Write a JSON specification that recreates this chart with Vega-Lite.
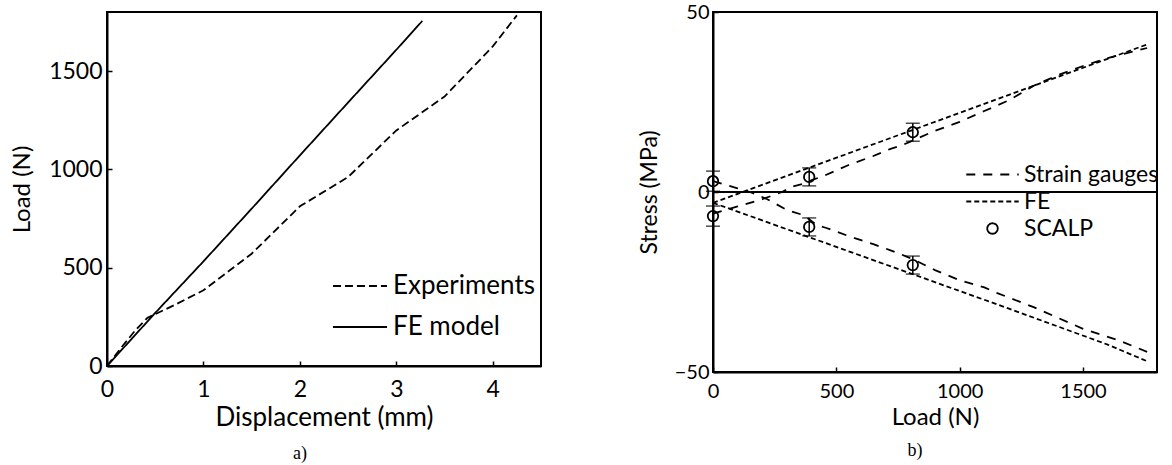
{
  "$schema": "https://vega.github.io/schema/vega-lite/v6.json",
  "padding": {"left": 9, "top": 1, "right": 0, "bottom": 0},
  "spacing": 95,
  "resolve": {
    "scale": {"strokeDash": "independent", "shape": "independent", "size": "independent"},
    "legend": {"strokeDash": "independent", "shape": "independent", "size": "independent"}
  },
  "datasets": {
    "scalp": [
      {"series": "SCALP", "load": 0, "stress": 3, "lo": 0.2, "hi": 5.8},
      {"series": "SCALP", "load": 0, "stress": -6.7, "lo": -9.5, "hi": -3.9},
      {"series": "SCALP", "load": 390, "stress": 4.2, "lo": 1.7, "hi": 6.7},
      {"series": "SCALP", "load": 390, "stress": -9.7, "lo": -12.2, "hi": -7.2},
      {"series": "SCALP", "load": 810, "stress": 16.6, "lo": 14.1, "hi": 19.1},
      {"series": "SCALP", "load": 810, "stress": -20.3, "lo": -22.8, "hi": -17.8}
    ]
  },
  "config": {
    "font": "Lato",
    "view": {"stroke": "black", "strokeWidth": 2},
    "axis": {
      "grid": false,
      "domainColor": "black",
      "domainWidth": 2,
      "tickColor": "black",
      "tickWidth": 1.5,
      "labelColor": "black",
      "titleColor": "black",
      "titleFontWeight": "normal",
      "labelFont": "Lato",
      "titleFont": "Lato",
      "format": "d"
    },
    "legend": {
      "labelColor": "black",
      "labelFont": "Lato",
      "symbolStrokeColor": "black",
      "padding": 0
    },
    "title": {"font": "Liberation Serif", "fontWeight": "normal", "color": "black"}
  },
  "hconcat": [
    {
      "width": 434,
      "height": 354,
      "title": {"text": "a)", "orient": "bottom", "fontSize": 18, "frame": "group", "dx": -24, "offset": 15},
      "data": {
        "values": [
          {"series": "Experiments", "disp": 0, "load": 0},
          {"series": "Experiments", "disp": 0.15, "load": 95},
          {"series": "Experiments", "disp": 0.3, "load": 185},
          {"series": "Experiments", "disp": 0.42, "load": 245},
          {"series": "Experiments", "disp": 0.7, "load": 310},
          {"series": "Experiments", "disp": 1.0, "load": 385},
          {"series": "Experiments", "disp": 1.5, "load": 571},
          {"series": "Experiments", "disp": 2.0, "load": 812},
          {"series": "Experiments", "disp": 2.5, "load": 961},
          {"series": "Experiments", "disp": 3.0, "load": 1198},
          {"series": "Experiments", "disp": 3.5, "load": 1370},
          {"series": "Experiments", "disp": 4.0, "load": 1625},
          {"series": "Experiments", "disp": 4.25, "load": 1783},
          {"series": "FE model", "disp": 0, "load": 0},
          {"series": "FE model", "disp": 0.5, "load": 270},
          {"series": "FE model", "disp": 1.0, "load": 532},
          {"series": "FE model", "disp": 1.5, "load": 800},
          {"series": "FE model", "disp": 2.0, "load": 1071},
          {"series": "FE model", "disp": 2.5, "load": 1340},
          {"series": "FE model", "disp": 3.0, "load": 1608},
          {"series": "FE model", "disp": 3.27, "load": 1755}
        ]
      },
      "mark": {"type": "line", "color": "black", "strokeWidth": 1.8},
      "encoding": {
        "x": {
          "field": "disp", "type": "quantitative",
          "scale": {"domain": [0, 4.5], "nice": false},
          "axis": {"orient": "bottom", "title": "Displacement (mm)", "values": [0, 1, 2, 3, 4], "labelFontSize": 23, "titleFontSize": 26, "tickSize": -5, "labelPadding": 17, "titlePadding": 3, "labelFlush": false,
            "encode": {"ticks": {"update": {"y2": {"value": -5}, "stroke": {"value": "black"}, "strokeWidth": {"value": 1.5}}}}}
        },
        "y": {
          "field": "load", "type": "quantitative",
          "scale": {"domain": [0, 1800], "nice": false},
          "axis": {"orient": "left", "title": "Load (N)", "values": [0, 500, 1000, 1500], "labelFontSize": 23, "titleFontSize": 24, "tickSize": -5, "labelPadding": 10, "titlePadding": 14, "labelFlush": false,
            "encode": {"ticks": {"update": {"x2": {"value": 5}, "stroke": {"value": "black"}, "strokeWidth": {"value": 1.5}}}}}
        },
        "strokeDash": {
          "field": "series", "type": "nominal",
          "scale": {"domain": ["Experiments", "FE model"], "range": [[8, 4], [1, 0]]},
          "legend": {"orient": "none", "legendX": 240, "legendY": 261, "title": null, "symbolType": "M-5,0H5", "symbolSize": 117, "symbolStrokeWidth": 1.8, "labelFontSize": 26, "rowPadding": 15, "labelOffset": 20}
        }
      }
    },
    {
      "width": 444,
      "height": 360,
      "title": {"text": "b)", "orient": "bottom", "fontSize": 18, "frame": "group", "dx": -20, "offset": 13},
      "layer": [
        {
          "data": {"values": [{"zero": 0}]},
          "mark": {"type": "rule", "color": "black", "strokeWidth": 2},
          "encoding": {
            "y": {"field": "zero", "type": "quantitative", "scale": {"domain": [-50, 50], "nice": false},
              "axis": {"orient": "left", "title": "Stress (MPa)", "values": [-50, 0, 50], "labelFontSize": 20, "titleFontSize": 23, "tickSize": -5, "labelPadding": 9, "titlePadding": 13, "labelFlush": false,
                "encode": {"ticks": {"update": {"x2": {"value": 5}, "stroke": {"value": "black"}, "strokeWidth": {"value": 1.5}}}}}}
          }
        },
        {
          "data": {
            "values": [
              {"series": "Strain gauges", "curve": "sg-up", "load": 0, "stress": -6},
              {"series": "Strain gauges", "curve": "sg-up", "load": 100, "stress": -4},
              {"series": "Strain gauges", "curve": "sg-up", "load": 200, "stress": -2},
              {"series": "Strain gauges", "curve": "sg-up", "load": 280, "stress": 0},
              {"series": "Strain gauges", "curve": "sg-up", "load": 320, "stress": 1.5},
              {"series": "Strain gauges", "curve": "sg-up", "load": 370, "stress": 2.3},
              {"series": "Strain gauges", "curve": "sg-up", "load": 400, "stress": 3.3},
              {"series": "Strain gauges", "curve": "sg-up", "load": 450, "stress": 4.5},
              {"series": "Strain gauges", "curve": "sg-up", "load": 550, "stress": 7.5},
              {"series": "Strain gauges", "curve": "sg-up", "load": 650, "stress": 10},
              {"series": "Strain gauges", "curve": "sg-up", "load": 720, "stress": 12},
              {"series": "Strain gauges", "curve": "sg-up", "load": 760, "stress": 12.8},
              {"series": "Strain gauges", "curve": "sg-up", "load": 800, "stress": 14},
              {"series": "Strain gauges", "curve": "sg-up", "load": 900, "stress": 17},
              {"series": "Strain gauges", "curve": "sg-up", "load": 1000, "stress": 19.5},
              {"series": "Strain gauges", "curve": "sg-up", "load": 1100, "stress": 22.5},
              {"series": "Strain gauges", "curve": "sg-up", "load": 1200, "stress": 25.5},
              {"series": "Strain gauges", "curve": "sg-up", "load": 1300, "stress": 29.5},
              {"series": "Strain gauges", "curve": "sg-up", "load": 1400, "stress": 32.5},
              {"series": "Strain gauges", "curve": "sg-up", "load": 1500, "stress": 35},
              {"series": "Strain gauges", "curve": "sg-up", "load": 1600, "stress": 37.2},
              {"series": "Strain gauges", "curve": "sg-up", "load": 1760, "stress": 40},
              {"series": "Strain gauges", "curve": "sg-low", "load": 0, "stress": 3},
              {"series": "Strain gauges", "curve": "sg-low", "load": 100, "stress": 1},
              {"series": "Strain gauges", "curve": "sg-low", "load": 150, "stress": 0},
              {"series": "Strain gauges", "curve": "sg-low", "load": 220, "stress": -2},
              {"series": "Strain gauges", "curve": "sg-low", "load": 300, "stress": -5},
              {"series": "Strain gauges", "curve": "sg-low", "load": 370, "stress": -6.5},
              {"series": "Strain gauges", "curve": "sg-low", "load": 420, "stress": -9.2},
              {"series": "Strain gauges", "curve": "sg-low", "load": 460, "stress": -10},
              {"series": "Strain gauges", "curve": "sg-low", "load": 560, "stress": -12.5},
              {"series": "Strain gauges", "curve": "sg-low", "load": 650, "stress": -14.5},
              {"series": "Strain gauges", "curve": "sg-low", "load": 720, "stress": -16.2},
              {"series": "Strain gauges", "curve": "sg-low", "load": 780, "stress": -17.8},
              {"series": "Strain gauges", "curve": "sg-low", "load": 820, "stress": -19},
              {"series": "Strain gauges", "curve": "sg-low", "load": 900, "stress": -21.7},
              {"series": "Strain gauges", "curve": "sg-low", "load": 1000, "stress": -24.5},
              {"series": "Strain gauges", "curve": "sg-low", "load": 1100, "stress": -26.5},
              {"series": "Strain gauges", "curve": "sg-low", "load": 1150, "stress": -28},
              {"series": "Strain gauges", "curve": "sg-low", "load": 1210, "stress": -29.6},
              {"series": "Strain gauges", "curve": "sg-low", "load": 1300, "stress": -32},
              {"series": "Strain gauges", "curve": "sg-low", "load": 1400, "stress": -35},
              {"series": "Strain gauges", "curve": "sg-low", "load": 1500, "stress": -38},
              {"series": "Strain gauges", "curve": "sg-low", "load": 1640, "stress": -41.1},
              {"series": "Strain gauges", "curve": "sg-low", "load": 1760, "stress": -44.4},
              {"series": "FE", "curve": "fe-up", "load": 0, "stress": -3},
              {"series": "FE", "curve": "fe-up", "load": 400, "stress": 7},
              {"series": "FE", "curve": "fe-up", "load": 800, "stress": 17},
              {"series": "FE", "curve": "fe-up", "load": 1200, "stress": 27},
              {"series": "FE", "curve": "fe-up", "load": 1600, "stress": 37},
              {"series": "FE", "curve": "fe-up", "load": 1760, "stress": 41},
              {"series": "FE", "curve": "fe-low", "load": 0, "stress": -3},
              {"series": "FE", "curve": "fe-low", "load": 400, "stress": -12.8},
              {"series": "FE", "curve": "fe-low", "load": 800, "stress": -22.6},
              {"series": "FE", "curve": "fe-low", "load": 1200, "stress": -32.4},
              {"series": "FE", "curve": "fe-low", "load": 1600, "stress": -42.4},
              {"series": "FE", "curve": "fe-low", "load": 1760, "stress": -47}
            ]
          },
          "mark": {"type": "line", "color": "black", "strokeWidth": 1.8},
          "encoding": {
            "x": {"field": "load", "type": "quantitative", "scale": {"domain": [0, 1800], "nice": false},
              "axis": {"orient": "bottom", "title": "Load (N)", "values": [0, 500, 1000, 1500], "labelFontSize": 20, "titleFontSize": 24, "tickSize": -5, "labelPadding": 14, "titlePadding": 4, "labelFlush": false,
                "encode": {"ticks": {"update": {"y2": {"value": -5}, "stroke": {"value": "black"}, "strokeWidth": {"value": 1.5}}}}}},
            "y": {"field": "stress", "type": "quantitative", "scale": {"domain": [-50, 50], "nice": false}},
            "detail": {"field": "curve"},
            "strokeDash": {
              "field": "series", "type": "nominal",
              "scale": {"domain": ["Strain gauges", "FE", "SCALP"], "range": [[9, 8], [5, 3], [1, 0]]},
              "legend": {"orient": "none", "legendX": 268, "legendY": 151, "title": null, "labelFontSize": 23, "rowPadding": 3, "labelOffset": 20, "symbolStrokeWidth": 1.8, "symbolSize": 110}
            }
          }
        },
        {
          "data": {"name": "scalp"},
          "mark": {"type": "rule", "color": "black", "strokeWidth": 1.5},
          "encoding": {
            "x": {"field": "load", "type": "quantitative"},
            "y": {"field": "lo", "type": "quantitative"},
            "y2": {"field": "hi"}
          }
        },
        {
          "data": {"name": "scalp"},
          "mark": {"type": "tick", "orient": "horizontal", "color": "black", "thickness": 1.5, "size": 14},
          "encoding": {
            "x": {"field": "load", "type": "quantitative"},
            "y": {"field": "lo", "type": "quantitative"}
          }
        },
        {
          "data": {"name": "scalp"},
          "mark": {"type": "tick", "orient": "horizontal", "color": "black", "thickness": 1.5, "size": 14},
          "encoding": {
            "x": {"field": "load", "type": "quantitative"},
            "y": {"field": "hi", "type": "quantitative"}
          }
        },
        {
          "data": {"name": "scalp"},
          "mark": {"type": "point", "filled": false, "color": "black", "strokeWidth": 1.8, "opacity": 1, "size": 110},
          "encoding": {
            "x": {"field": "load", "type": "quantitative"},
            "y": {"field": "stress", "type": "quantitative"},
            "shape": {
              "field": "series", "type": "nominal",
              "scale": {"domain": ["Strain gauges", "FE", "SCALP"], "range": ["M-5,0H5", "M-5,0H5", "circle"]},
              "legend": {"orient": "none", "legendX": 268, "legendY": 151, "title": null, "labelFontSize": 23, "rowPadding": 3, "labelOffset": 20, "symbolStrokeWidth": 1.8, "symbolSize": 110}
            }
          }
        }
      ]
    }
  ]
}
